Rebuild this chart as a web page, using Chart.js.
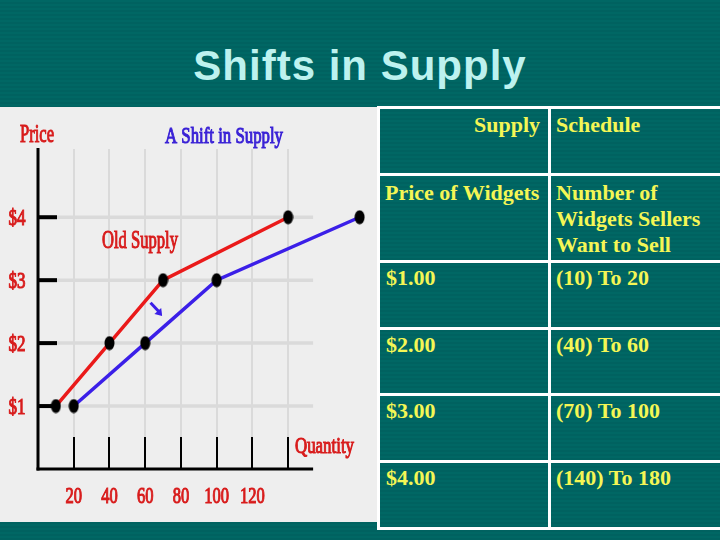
<!DOCTYPE html>
<html>
<head>
<meta charset="utf-8">
<script src="https://cdn.jsdelivr.net/npm/chart.js@4/dist/chart.umd.min.js"></script>
<style>
  html, body { margin:0; padding:0; }
  body { width:720px; height:540px; overflow:hidden; position:relative;
    background: repeating-linear-gradient(to bottom, #006764 0px, #006764 2px, #006260 2px, #006260 4px); }
  #title { position:absolute; left:0; width:720px; top:45px; text-align:center;
    font: bold 42px "Liberation Sans", Arial, sans-serif; line-height:41px; letter-spacing:1px; color:#bdf2ef; }
  #panel { position:absolute; left:0; top:107px; width:378px; height:415px; background:#eeeeee; }
  #chart { display:block; }
  .hl { position:absolute; background:#ffffff; }
  .cell { position:absolute; font: bold 22px "Liberation Serif", "Times New Roman", serif; line-height:26px;
    color:#f4f655; white-space:nowrap; }
</style>
</head>
<body>
<div id="title">Shifts in Supply</div>
<div id="panel"><canvas id="chart" width="378" height="415"></canvas></div>
<div id="table"></div>
<script>
// ---- data ----
const prices = [1, 2, 3, 4];
const oldSupplyQty = [10, 40, 70, 140];
const newSupplyQty = [20, 60, 100, 180];
const xTickValues = [20, 40, 60, 80, 100, 120];
const xTickLabels = ['20', '40', '60', '80', '100', '120'];
const xGridValues = [20, 40, 60, 80, 100, 120, 140];
const yTickLabels = ['$1', '$2', '$3', '$4'];
const tableHeader = ['Supply', 'Schedule'];
const tableColHeads = [['Price of Widgets'], ['Number of', 'Widgets Sellers', 'Want to Sell']];

// ---- table (HTML) ----
(function buildTable(){
  const t = document.getElementById('table');
  function hl(l, tp, w, h){ const d=document.createElement('div'); d.className='hl';
    d.style.left=l+'px'; d.style.top=tp+'px'; d.style.width=w+'px'; d.style.height=h+'px'; t.appendChild(d); }
  function cell(txt, l, tp, align){ const d=document.createElement('div'); d.className='cell';
    d.innerHTML=txt; d.style.top=tp+'px';
    if(align==='right'){ d.style.right=(720-l)+'px'; d.style.textAlign='right'; } else d.style.left=l+'px';
    t.appendChild(d); }
  const rowLines = [106, 173, 260, 327, 393, 460, 527];
  rowLines.forEach(y => hl(378, y, 342, 3));
  hl(377, 106, 3, 424);
  hl(548, 106, 3, 424);
  cell(tableHeader[0], 540, 112, 'right');
  cell(tableHeader[1], 556, 112);
  cell(tableColHeads[0].join('<br>'), 385, 180);
  cell(tableColHeads[1].join('<br>'), 556, 180);
  const rowTops = [265, 332, 398, 465];
  prices.forEach((p, i) => {
    cell('$' + p.toFixed(2), 386, rowTops[i]);
    cell('(' + oldSupplyQty[i] + ') To ' + newSupplyQty[i], 556, rowTops[i]);
  });
})();

// ---- chart ----
const RED = '#ea1a1a', BLUE = '#3b1fe8', LABEL_RED = '#d81c1c', LABEL_BLUE = '#3a22d6';
const GRID_END = 154;

const dot = document.createElement('canvas');
dot.width = 11; dot.height = 15;
(function(){ const c = dot.getContext('2d'); c.fillStyle = '#000';
  c.beginPath(); c.ellipse(5.5, 7.5, 5, 7, 0, 0, Math.PI*2); c.fill(); })();

function fitText(ctx, str, left, baseline, size, width, color){
  ctx.save();
  ctx.font = size + 'px "Liberation Serif", "Times New Roman", serif';
  const w = ctx.measureText(str).width;
  ctx.translate(left, baseline); ctx.scale(width / w, 1);
  ctx.fillStyle = color; ctx.strokeStyle = color; ctx.lineWidth = 1.1;
  ctx.textAlign = 'left'; ctx.textBaseline = 'alphabetic';
  ctx.fillText(str, 0, 0); ctx.strokeText(str, 0, 0);
  ctx.restore();
}
function centerText(ctx, str, cx, baseline, size, factor, color){
  ctx.save();
  ctx.font = size + 'px "Liberation Serif", "Times New Roman", serif';
  ctx.translate(cx, baseline); ctx.scale(factor, 1);
  ctx.fillStyle = color; ctx.strokeStyle = color; ctx.lineWidth = 1.1;
  ctx.textAlign = 'center'; ctx.textBaseline = 'alphabetic';
  ctx.fillText(str, 0, 0); ctx.strokeText(str, 0, 0);
  ctx.restore();
}

const decor = {
  id: 'decor',
  beforeDatasetsDraw(chart){
    const ctx = chart.ctx, xs = chart.scales.x, ys = chart.scales.y;
    const x0 = xs.getPixelForValue(0), yb = ys.getPixelForValue(0), yt = chart.chartArea.top;
    const xEnd = xs.getPixelForValue(GRID_END);
    const tickTop = yb - 32;
    function line(a, b, c, d){ ctx.beginPath(); ctx.moveTo(a, b); ctx.lineTo(c, d); ctx.stroke(); }
    ctx.save();
    ctx.lineCap = 'butt';
    // grid
    ctx.strokeStyle = '#dadada'; ctx.lineWidth = 2;
    xGridValues.forEach(v => { const px = Math.round(xs.getPixelForValue(v)); line(px, yt + 1, px, tickTop); });
    ctx.lineWidth = 3.5;
    prices.forEach(v => { const py = ys.getPixelForValue(v); line(x0, py, xEnd, py); });
    // axes
    ctx.strokeStyle = '#000';
    ctx.lineWidth = 3;
    line(x0, yt, x0, yb + 1.5);
    line(x0 - 1.5, yb, xEnd, yb);
    ctx.lineWidth = 4;
    prices.forEach(v => { const py = ys.getPixelForValue(v); line(x0, py, x0 + 19, py); });
    ctx.lineWidth = 2;
    xGridValues.forEach(v => { const px = Math.round(xs.getPixelForValue(v)); line(px, tickTop, px, yb); });
    // tick labels
    yTickLabels.forEach((s, i) => centerText(ctx, s, 17, ys.getPixelForValue(prices[i]) + 8, 23, 0.74, LABEL_RED));
    xTickLabels.forEach((s, i) => centerText(ctx, s, xs.getPixelForValue(xTickValues[i]), 396, 23, 0.72, LABEL_RED));
    // titles & labels
    fitText(ctx, 'Price', 20, 35, 26, 34, LABEL_RED);
    fitText(ctx, 'A Shift in Supply', 165, 36, 24, 118, LABEL_BLUE);
    fitText(ctx, 'Old Supply', 102, 141, 25, 76, LABEL_RED);
    fitText(ctx, 'Quantity', 295, 346, 23, 59, LABEL_RED);
    // small shift arrow
    const ax1 = xs.getPixelForValue(63), ay1 = ys.getPixelForValue(2.64);
    const ax2 = xs.getPixelForValue(69.5), ay2 = ys.getPixelForValue(2.43);
    ctx.strokeStyle = BLUE; ctx.fillStyle = BLUE; ctx.lineWidth = 3;
    line(ax1, ay1, ax2 - 2, ay2 - 3);
    const ang = Math.atan2(ay2 - ay1, ax2 - ax1);
    ctx.beginPath();
    ctx.moveTo(ax2, ay2);
    ctx.lineTo(ax2 - 8*Math.cos(ang - 0.6), ay2 - 8*Math.sin(ang - 0.6));
    ctx.lineTo(ax2 - 8*Math.cos(ang + 0.6), ay2 - 8*Math.sin(ang + 0.6));
    ctx.closePath(); ctx.fill();
    ctx.restore();
  }
};

new Chart(document.getElementById('chart'), {
  type: 'line',
  data: {
    datasets: [
      { label: 'Old Supply', data: prices.map((p, i) => ({ x: oldSupplyQty[i], y: p })),
        borderColor: RED, borderWidth: 3.5, tension: 0, pointStyle: dot, pointRadius: 6 },
      { label: 'New Supply', data: prices.map((p, i) => ({ x: newSupplyQty[i], y: p })),
        borderColor: BLUE, borderWidth: 3.5, tension: 0, pointStyle: dot, pointRadius: 6 }
    ]
  },
  options: {
    responsive: false, animation: false, events: [],
    layout: { padding: { left: 38, right: 7, top: 41, bottom: 53 } },
    plugins: { legend: { display: false }, tooltip: { enabled: false }, title: { display: false } },
    scales: {
      x: { type: 'linear', min: 0, max: 185, display: false },
      y: { type: 'linear', min: 0, max: 5.1, display: false }
    }
  },
  plugins: [decor]
});
</script>
</body>
</html>
